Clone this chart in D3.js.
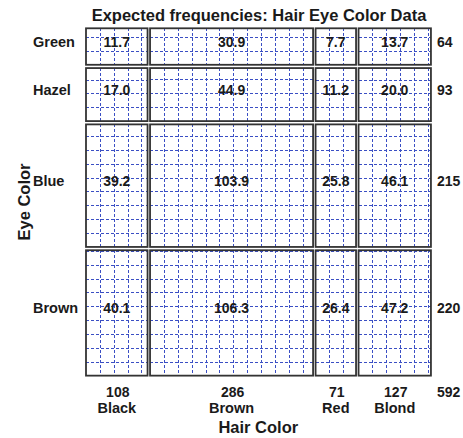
<!DOCTYPE html>
<html>
<head>
<meta charset="utf-8">
<script src="https://cdn.jsdelivr.net/npm/d3@7"></script>
<style>
  html, body { margin: 0; padding: 0; background: #fff; }
  svg { display: block; font-family: "Liberation Sans", Arial, Helvetica, sans-serif; }
</style>
</head>
<body>
<svg id="chart" width="463" height="438"></svg>
<script>
// ---- data ----
const hairColors = ["Black", "Brown", "Red", "Blond"];
const eyeColors = ["Green", "Hazel", "Blue", "Brown"];
const hairTotals = [108, 286, 71, 127];
const eyeTotals = [64, 93, 215, 220];
const grandTotal = 592;
const expGreen = [11.7, 30.9, 7.7, 13.7];
const expHazel = [17.0, 44.9, 11.2, 20.0];
const expBlue  = [39.2, 103.9, 25.8, 46.1];
const expBrown = [40.1, 106.3, 26.4, 47.2];
const expected = [expGreen, expHazel, expBlue, expBrown];
const titleText = "Expected frequencies: Hair Eye Color Data";
const xTitle = "Hair Color";
const yTitle = "Eye Color";

// ---- layout ----
const svg = d3.select("#chart");
const plotLeft = 86, plotTop = 28.3, unit = 0.57, gapX = 2.5, gapY = 3.3;

const xUnits = d3.scaleLinear().domain([0, grandTotal]).range([plotLeft, plotLeft + grandTotal * unit]);
const yUnits = d3.scaleLinear().domain([0, grandTotal]).range([plotTop, plotTop + grandTotal * unit]);
const colStart = [0, ...d3.cumsum(hairTotals)].slice(0, hairTotals.length);
const rowStart = [0, ...d3.cumsum(eyeTotals)].slice(0, eyeTotals.length);

const cols = hairColors.map((h, j) => {
  const x0 = xUnits(colStart[j]) + j * gapX;
  const x1 = xUnits(colStart[j] + hairTotals[j]) + j * gapX;
  return { name: h, total: hairTotals[j], x0, x1 };
});
const rows = eyeColors.map((e, i) => {
  const y0 = yUnits(rowStart[i]) + i * gapY;
  const y1 = yUnits(rowStart[i] + eyeTotals[i]) + i * gapY;
  return { name: e, total: eyeTotals[i], y0, y1 };
});

const textColor = "#1a1a1a";
const gridColor = "#3b4fc4";
const snap = v => Math.round(v) + 0.5;

// title
svg.append("text")
  .attr("x", 259).attr("y", 21)
  .attr("text-anchor", "middle")
  .attr("font-size", 16.5).attr("font-weight", "bold")
  .attr("fill", textColor)
  .text(titleText);

// cells
const cellsG = svg.append("g");
rows.forEach((r, i) => {
  cols.forEach((c, j) => {
    const w = c.x1 - c.x0, h = r.y1 - r.y0;
    const e = expected[i][j];
    const s = Math.sqrt(w * h / e);
    const g = cellsG.append("g");
    const xs = d3.range(c.x0 + s, c.x1 - 0.5, s);
    g.selectAll("line.v").data(xs).join("line")
      .attr("class", "v")
      .attr("x1", d => snap(d)).attr("x2", d => snap(d))
      .attr("y1", r.y0).attr("y2", r.y1)
      .attr("stroke", gridColor).attr("stroke-width", 1)
      .attr("stroke-dasharray", "3,2")
      .attr("shape-rendering", "crispEdges");
    const ys = d3.range(r.y1 - s, r.y0 + 0.5, -s);
    g.selectAll("line.h").data(ys).join("line")
      .attr("class", "h")
      .attr("y1", d => snap(d)).attr("y2", d => snap(d))
      .attr("x1", c.x0).attr("x2", c.x1)
      .attr("stroke", gridColor).attr("stroke-width", 1)
      .attr("stroke-dasharray", "3,2")
      .attr("shape-rendering", "crispEdges");
    g.append("rect")
      .attr("x", c.x0).attr("y", r.y0)
      .attr("width", w).attr("height", h)
      .attr("fill", "none").attr("stroke", "#333").attr("stroke-width", 1.8);
    g.append("text")
      .attr("x", (c.x0 + c.x1) / 2).attr("y", (r.y0 + r.y1) / 2 + 0.5)
      .attr("text-anchor", "middle")
      .attr("font-size", 14).attr("font-weight", "bold")
      .attr("fill", textColor)
      .text(e.toFixed(1));
  });
});

// row labels and totals
rows.forEach(r => {
  const yc = (r.y0 + r.y1) / 2 + 0.5;
  svg.append("text").attr("x", 33).attr("y", yc)
    .attr("font-size", 14.5).attr("font-weight", "bold").attr("fill", textColor)
    .text(r.name);
  svg.append("text").attr("x", 437).attr("y", yc)
    .attr("font-size", 14).attr("font-weight", "bold").attr("fill", textColor)
    .text(r.total);
});

// column totals and labels
cols.forEach(c => {
  const xc = (c.x0 + c.x1) / 2 + 1;
  svg.append("text").attr("x", xc).attr("y", 396.7)
    .attr("text-anchor", "middle")
    .attr("font-size", 14).attr("font-weight", "bold").attr("fill", textColor)
    .text(c.total);
  svg.append("text").attr("x", xc - 1).attr("y", 413.3)
    .attr("text-anchor", "middle")
    .attr("font-size", 14.5).attr("font-weight", "bold").attr("fill", textColor)
    .text(c.name);
});
svg.append("text").attr("x", 437).attr("y", 396.7)
  .attr("font-size", 14).attr("font-weight", "bold").attr("fill", textColor)
  .text(grandTotal);

// axis titles
svg.append("text").attr("x", 258.3).attr("y", 433.3)
  .attr("text-anchor", "middle")
  .attr("font-size", 16.5).attr("font-weight", "bold").attr("fill", textColor)
  .text(xTitle);
svg.append("text")
  .attr("transform", "translate(30,202) rotate(-90)")
  .attr("text-anchor", "middle")
  .attr("font-size", 16.5).attr("font-weight", "bold").attr("fill", textColor)
  .text(yTitle);
</script>
</body>
</html>
